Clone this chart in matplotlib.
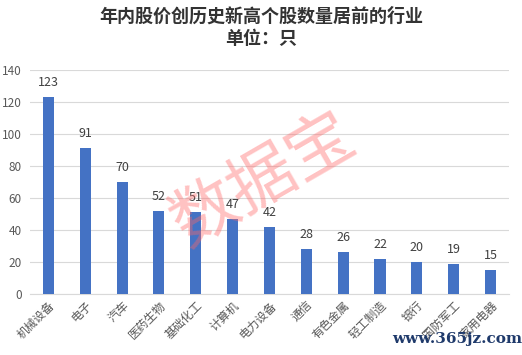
import matplotlib.pyplot as plt
import numpy as np

plt.rcParams['font.family'] = ['Noto Sans CJK SC', 'DejaVu Sans']

industries = ['机械设备', '电子', '汽车', '医药生物', '基础化工', '计算机', '电力设备',
              '通信', '有色金属', '轻工制造', '银行', '国防军工', '家用电器']
counts = [123, 91, 70, 52, 51, 47, 42, 28, 26, 22, 20, 19, 15]

fig = plt.figure(figsize=(5.22, 3.55), dpi=100)
ax = fig.add_axes([0.0575, 0.172, 0.9175, 0.631])

x = np.arange(len(industries))
bars = ax.bar(x, counts, width=0.3, color='#4472C4', zorder=3)
for xi, v in zip(x, counts):
    ax.text(xi, v + 5, str(v), ha='center', va='bottom', fontsize=9, color='#404040')

ax.set_xlim(-0.5, len(industries) - 0.5)
ax.set_ylim(0, 140)
ax.set_yticks(np.arange(0, 141, 20))
ax.yaxis.grid(True, color='#D9D9D9', linewidth=0.8, zorder=0)
for s in ['top', 'right', 'left']:
    ax.spines[s].set_visible(False)
ax.spines['bottom'].set_color('#D9D9D9')
ax.tick_params(axis='both', length=0, labelsize=8.5, colors='#595959')
ax.tick_params(axis='y', pad=6)
ax.set_xticks(x)
ax.set_xticklabels(industries, rotation=45, ha='right', rotation_mode='anchor')

fig.text(0.5, 0.955, '年内股价创历史新高个股数量居前的行业', ha='center', va='center',
         fontsize=13, fontweight='bold', color='#333333')
fig.text(0.5, 0.892, '单位：只', ha='center', va='center',
         fontsize=13, fontweight='bold', color='#333333')

# watermarks
fig.text(0.505, 0.49, '数据宝', ha='center', va='center', fontsize=48, rotation=30,
         color='#FF6666', alpha=0.4)
fig.text(0.875, 0.045, 'www.365jz.com', ha='center', va='center', fontsize=11,
         fontweight='bold', color='#1F3A6B', family=['DejaVu Serif'])

fig.savefig('out.png', dpi=100)
